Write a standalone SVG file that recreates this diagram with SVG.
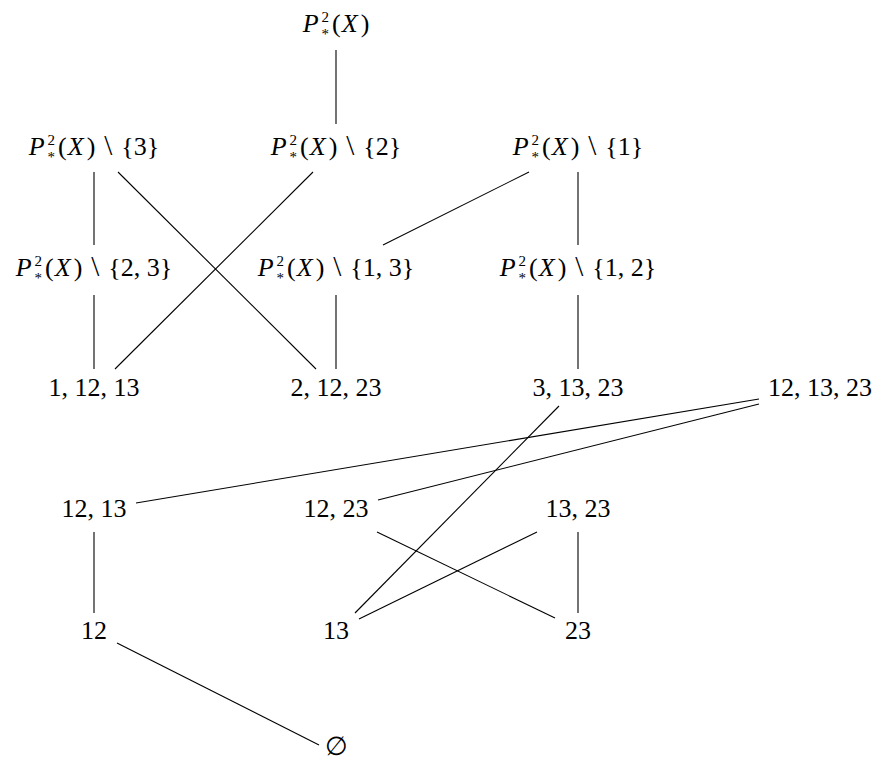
<svg xmlns="http://www.w3.org/2000/svg" width="872" height="760" viewBox="0 0 872 760">
<style>
text{font-family:"Liberation Serif","DejaVu Serif",serif;font-size:26px;fill:#000;text-anchor:middle}
.i{font-style:italic}
.s{font-size:15px}
.b{font-size:29px}
#edges path{stroke:#000;stroke-width:1.1;fill:none}
</style>
<rect width="872" height="760" fill="#fff"/>
<g id="edges">
<path d="M336 50V124"/>
<path d="M94 172V245"/>
<path d="M118 172L316 369"/>
<path d="M313 172L115 369"/>
<path d="M529 172L383 245"/>
<path d="M578 172V245"/>
<path d="M94 295V369"/>
<path d="M336 295V369"/>
<path d="M578 295V369"/>
<path d="M759 399L136 503"/>
<path d="M759 404L378 500"/>
<path d="M559 406L355 613"/>
<path d="M377 532L555 618"/>
<path d="M537 532L359 619"/>
<path d="M578 532V613"/>
<path d="M94 532V613"/>
<path d="M117 643L319 745"/>
</g>
<g id="n0"><text x="336" y="32"><tspan class="i">P</tspan><tspan class="s" dx="3" dy="-10">2</tspan><tspan class="s" dx="-7.5" dy="17">*</tspan><tspan dx="3" dy="-7">(</tspan><tspan class="i" dx="1">X</tspan><tspan dx="3">)</tspan></text></g>
<g id="n1"><text x="94" y="155"><tspan class="i">P</tspan><tspan class="s" dx="3" dy="-10">2</tspan><tspan class="s" dx="-7.5" dy="17">*</tspan><tspan dx="3" dy="-7">(</tspan><tspan class="i" dx="1">X</tspan><tspan dx="3">)</tspan><tspan class="b" dx="9">\</tspan><tspan dx="9">{3}</tspan></text></g>
<g id="n2"><text x="336" y="155"><tspan class="i">P</tspan><tspan class="s" dx="3" dy="-10">2</tspan><tspan class="s" dx="-7.5" dy="17">*</tspan><tspan dx="3" dy="-7">(</tspan><tspan class="i" dx="1">X</tspan><tspan dx="3">)</tspan><tspan class="b" dx="9">\</tspan><tspan dx="9">{2}</tspan></text></g>
<g id="n3"><text x="578" y="155"><tspan class="i">P</tspan><tspan class="s" dx="3" dy="-10">2</tspan><tspan class="s" dx="-7.5" dy="17">*</tspan><tspan dx="3" dy="-7">(</tspan><tspan class="i" dx="1">X</tspan><tspan dx="3">)</tspan><tspan class="b" dx="9">\</tspan><tspan dx="9">{1}</tspan></text></g>
<g id="n4"><text x="94" y="276"><tspan class="i">P</tspan><tspan class="s" dx="3" dy="-10">2</tspan><tspan class="s" dx="-7.5" dy="17">*</tspan><tspan dx="3" dy="-7">(</tspan><tspan class="i" dx="1">X</tspan><tspan dx="3">)</tspan><tspan class="b" dx="9">\</tspan><tspan dx="9">{2, 3}</tspan></text></g>
<g id="n5"><text x="336" y="276"><tspan class="i">P</tspan><tspan class="s" dx="3" dy="-10">2</tspan><tspan class="s" dx="-7.5" dy="17">*</tspan><tspan dx="3" dy="-7">(</tspan><tspan class="i" dx="1">X</tspan><tspan dx="3">)</tspan><tspan class="b" dx="9">\</tspan><tspan dx="9">{1, 3}</tspan></text></g>
<g id="n6"><text x="578" y="276"><tspan class="i">P</tspan><tspan class="s" dx="3" dy="-10">2</tspan><tspan class="s" dx="-7.5" dy="17">*</tspan><tspan dx="3" dy="-7">(</tspan><tspan class="i" dx="1">X</tspan><tspan dx="3">)</tspan><tspan class="b" dx="9">\</tspan><tspan dx="9">{1, 2}</tspan></text></g>
<g id="n7"><text x="94" y="396">1, 12, 13</text></g>
<g id="n8"><text x="336" y="396">2, 12, 23</text></g>
<g id="n9"><text x="578" y="396">3, 13, 23</text></g>
<g id="n10"><text x="820" y="396">12, 13, 23</text></g>
<g id="n11"><text x="94" y="517">12, 13</text></g>
<g id="n12"><text x="336" y="517">12, 23</text></g>
<g id="n13"><text x="578" y="517">13, 23</text></g>
<g id="n14"><text x="94" y="639">12</text></g>
<g id="n15"><text x="336" y="639">13</text></g>
<g id="n16"><text x="578" y="639">23</text></g>
<g id="n17"><text x="336" y="755">∅</text></g>
</svg>
